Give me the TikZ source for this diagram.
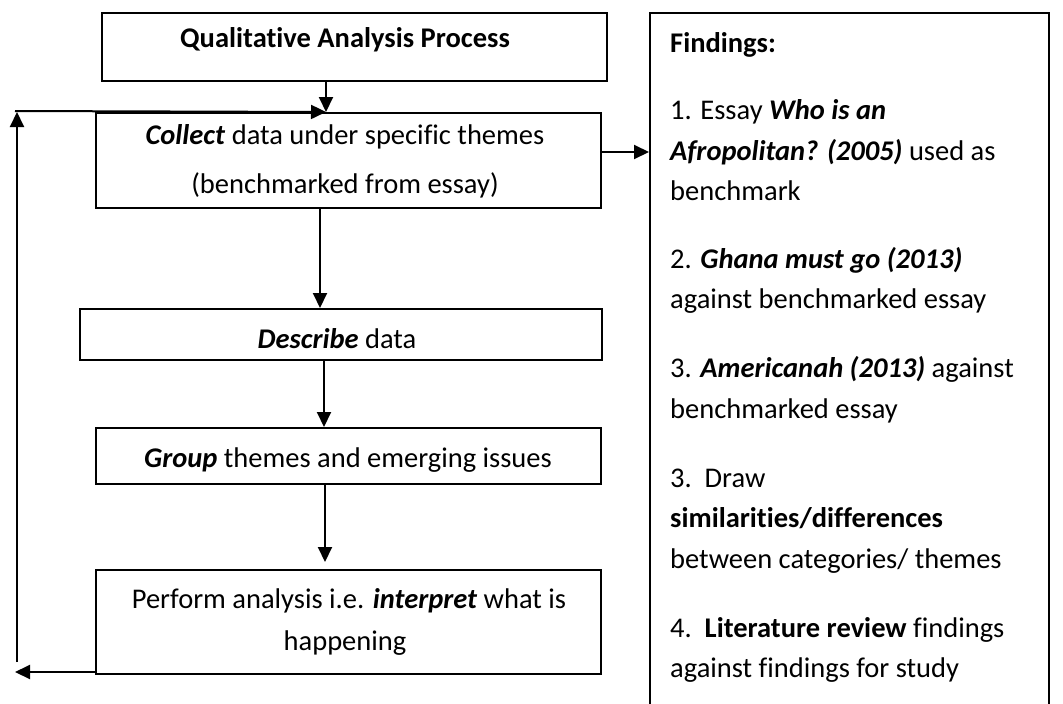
\documentclass[tikz,border=0pt]{standalone}
\usepackage{fontspec}
\setmainfont{Carlito}[Ligatures=NoCommon]
\usetikzlibrary{arrows.meta,calc}
\tikzset{
  box/.style={draw=black, line width=1.5pt, rectangle, inner sep=0pt, anchor=north west},
  arr/.style={line width=2pt, -{Triangle[length=15pt,width=14pt]}},
  txt/.style={inner sep=0pt, anchor=base, font=\fontsize{28.5}{34}\selectfont},
  ftxt/.style={inner sep=0pt, anchor=base west, font=\fontsize{28.5}{34}\selectfont},
}
\newcommand{\bi}[1]{\textbf{\textit{#1}}}
\begin{document}
\begin{tikzpicture}[x=1pt,y=-1pt]
\useasboundingbox (0,0) rectangle (1063,704);
\clip (0,0) rectangle (1063,704);
\fill[white] (0,0) rectangle (1063,704);

% boxes
\node[box, minimum width=505pt, minimum height=68pt] (title) at (101,12) {};
\node[box, minimum width=505pt, minimum height=95pt] (collect) at (95,112) {};
\node[box, minimum width=522pt, minimum height=51pt] (describe) at (79,308) {};
\node[box, minimum width=505pt, minimum height=56pt] (group) at (95,427) {};
\node[box, minimum width=505pt, minimum height=104pt] (perform) at (95,569) {};
\node[box, minimum width=399pt, minimum height=720pt] (findings) at (649,12) {};

% box texts
\node[txt] (titleT) at (345,47) {\textbf{Qualitative Analysis Process}};
\node[txt] (collectA) at (345,144) {\bi{Collect} data under specific themes};
\node[txt] (collectB) at (345,193) {(benchmarked from essay)};
\node[txt] (describeT) at (337,348) {\bi{Describe} data};
\node[txt] (groupT) at (348,467) {\bi{Group} themes and emerging issues};
\node[txt] (performA) at (349,608) {Perform analysis i.e. \bi{interpret} what is};
\node[txt] (performB) at (345,650) {happening};

% findings texts
\node[ftxt] (f0) at (670,52) {\textbf{Findings:}};
\node[ftxt] (f1) at (670,119) {1. Essay \bi{Who is an}};
\node[ftxt] (f2) at (670,160) {\bi{Afropolitan? (2005)} used as};
\node[ftxt] (f3) at (670,200) {benchmark};
\node[ftxt] (f4) at (670,268) {2. \bi{Ghana must go (2013)}};
\node[ftxt] (f5) at (670,308) {against benchmarked essay};
\node[ftxt] (f6) at (670,377) {3. \bi{Americanah (2013)} against};
\node[ftxt] (f7) at (670,418) {benchmarked essay};
\node[ftxt] (f8) at (670,487) {3.\ \ Draw};
\node[ftxt] (f9) at (670,527) {\textbf{similarities/differences}};
\node[ftxt] (f10) at (670,568) {between categories/ themes};
\node[ftxt] (f11) at (670,637) {4.\ \ \textbf{Literature review} findings};
\node[ftxt] (f12) at (670,677) {against findings for study};

% helper coordinates
\coordinate (a1) at (326,0);
\coordinate (a2) at (320,0);
\coordinate (a3) at (324,0);
\coordinate (a4) at (325,0);
\coordinate (a5) at (0,152);
\coordinate (loopTop) at (15,111);
\coordinate (loopUpTop) at (17,112);
\coordinate (loopUpBot) at (17,662);
\coordinate (loopLeft) at (15,672);
\coordinate (loopStart) at (95,672);

% connectors
\draw[arr] (a1 |- title.south) -- (a1 |- collect.north);
\draw[arr] (a2 |- collect.south) -- (a2 |- describe.north);
\draw[arr] (a3 |- describe.south) -- (a3 |- group.north);
\draw[arr, shorten >=7pt] (a4 |- group.south) -- (a4 |- perform.north);
\draw[arr] (collect.east |- a5) -- (findings.west |- a5);

% feedback loop
\draw[arr] (loopStart) -- (loopLeft);
\draw[arr] (loopUpBot) -- (loopUpTop);
\draw[arr] (loopTop) -- (a1 |- collect.north);
\end{tikzpicture}
\end{document}
